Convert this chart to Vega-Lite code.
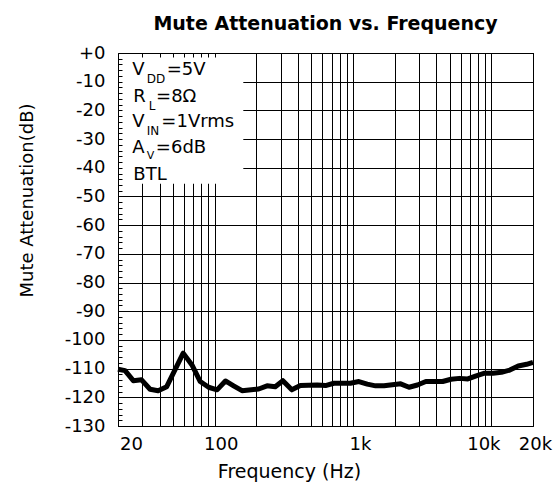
{
  "$schema": "https://vega.github.io/schema/vega-lite/v6.json",
  "width": 415,
  "height": 373,
  "autosize": "none",
  "padding": {"left": 118, "top": 53, "right": 25, "bottom": 61},
  "background": "white",
  "config": {
    "font": "DejaVu Sans",
    "view": {"stroke": "black", "strokeWidth": 1},
    "axis": {"labelFont": "DejaVu Sans", "titleFont": "DejaVu Sans", "labelFontSize": 18, "titleFontSize": 18, "labelColor": "black", "titleColor": "black", "titleFontWeight": "normal"}
  },
  "title": {"text": "Mute Attenuation vs. Frequency", "font": "DejaVu Sans", "fontSize": 19, "fontWeight": "bold", "color": "black", "anchor": "middle", "frame": "group", "baseline": "alphabetic", "offset": -5},
  "resolve": {"axis": {"x": "independent", "y": "independent"}},
  "layer": [
    {
      "data": {"values": [{}]},
      "mark": {"type": "rect", "fill": "white", "strokeWidth": 0},
      "encoding": {
        "x": {"datum": 20, "type": "quantitative", "scale": {"type": "log", "domain": [20, 20000], "nice": false},
          "axis": {"orient": "bottom", "grid": true, "gridColor": "black", "gridOpacity": 1, "gridWidth": 1, "values": [20,30,40,50,60,70,80,90,100,200,300,400,500,600,700,800,900,1000,2000,3000,4000,5000,6000,7000,8000,9000,10000,20000], "labels": false, "ticks": false, "domain": false, "title": null, "zindex": 0}},
        "x2": {"datum": 161},
        "y": {"datum": 0, "type": "quantitative", "scale": {"domain": [-130, 0], "nice": false, "zero": false},
          "axis": {"orient": "left", "grid": true, "gridColor": "black", "gridOpacity": 1, "gridWidth": 1, "values": [-130,-120,-110,-100,-90,-80,-70,-60,-50,-40,-30,-20,-10,0], "labels": false, "ticks": false, "domain": false, "title": null, "zindex": 0}},
        "y2": {"datum": -45.6}
      }
    },
    {
      "data": {"values": [
        {"f": 20, "db": -110.2}, {"f": 22.5, "db": -110.7}, {"f": 25.8, "db": -114.2}, {"f": 29.6, "db": -113.9},
        {"f": 34.1, "db": -117.2}, {"f": 39, "db": -117.7}, {"f": 45, "db": -116.3}, {"f": 59.2, "db": -104.6},
        {"f": 68.5, "db": -108.7}, {"f": 78.6, "db": -114.5}, {"f": 90.4, "db": -116.5}, {"f": 104, "db": -117.4},
        {"f": 119.6, "db": -114.3}, {"f": 137, "db": -116.0}, {"f": 157.6, "db": -117.7}, {"f": 208, "db": -117.1},
        {"f": 239, "db": -116.0}, {"f": 274, "db": -116.3}, {"f": 311, "db": -114.2}, {"f": 361, "db": -117.4},
        {"f": 416, "db": -115.9}, {"f": 551, "db": -115.7}, {"f": 632, "db": -115.9}, {"f": 727, "db": -115.1},
        {"f": 958, "db": -115.1}, {"f": 1102, "db": -114.5}, {"f": 1267, "db": -115.4}, {"f": 1457, "db": -116.0},
        {"f": 1676, "db": -116.0}, {"f": 2209, "db": -115.3}, {"f": 2540, "db": -116.5}, {"f": 2922, "db": -115.7},
        {"f": 3360, "db": -114.5}, {"f": 4443, "db": -114.5}, {"f": 5110, "db": -113.7}, {"f": 5876, "db": -113.4},
        {"f": 6759, "db": -113.6}, {"f": 7772, "db": -112.5}, {"f": 8938, "db": -111.6}, {"f": 10280, "db": -111.6},
        {"f": 11820, "db": -111.3}, {"f": 13600, "db": -110.5}, {"f": 15640, "db": -109.1}, {"f": 17990, "db": -108.5},
        {"f": 20000, "db": -107.8}
      ]},
      "mark": {"type": "line", "color": "black", "strokeWidth": 5, "strokeJoin": "round"},
      "encoding": {
        "x": {"field": "f", "type": "quantitative", "scale": {"type": "log", "domain": [20, 20000], "nice": false},
          "axis": {"orient": "bottom", "values": [20, 100, 1000, 10000, 20000],
            "labelExpr": "datum.value == 20 ? '20' : datum.value == 100 ? '100' : datum.value == 1000 ? '1k' : datum.value == 10000 ? '10k' : '20k'",
            "grid": false, "ticks": false, "domain": false, "labelPadding": 9, "labelFlush": false,
            "labelOffset": {"condition": [{"test": "datum.value == 20", "value": 13}, {"test": "datum.value == 100", "value": 6}, {"test": "datum.value == 1000", "value": 7}, {"test": "datum.value == 10000", "value": -8}], "value": 2},
            "title": "Frequency (Hz)", "titleFontSize": 19, "titleX": 171, "titleY": 51, "titleBaseline": "alphabetic", "titleAnchor": null, "titleAlign": "center", "zindex": 1}},
        "y": {"field": "db", "type": "quantitative", "scale": {"domain": [-130, 0], "nice": false, "zero": false},
          "axis": {"orient": "left", "values": [-130,-128,-126,-124,-122,-120,-118,-116,-114,-112,-110,-108,-106,-104,-102,-100,-98,-96,-94,-92,-90,-88,-86,-84,-82,-80,-78,-76,-74,-72,-70,-68,-66,-64,-62,-60,-58,-56,-54,-52,-50,-48,-46,-44,-42,-40,-38,-36,-34,-32,-30,-28,-26,-24,-22,-20,-18,-16,-14,-12,-10,-8,-6,-4,-2,0],
            "labelExpr": "datum.value % 10 === 0 ? (datum.value === 0 ? '+0' : toString(datum.value)) : ''",
            "grid": false, "ticks": true, "tickSize": -4, "tickColor": "black", "tickWidth": 1,
            "domain": true, "domainColor": "black", "domainWidth": 1, "labelPadding": 17, "labelFlush": false,
            "title": "Mute Attenuation(dB)", "titleAngle": -90, "titleX": -86, "titleY": 147, "titleBaseline": "alphabetic", "titleAlign": "center", "titleAnchor": null, "zindex": 1}}
      }
    },
    {
      "data": {"values": [{}]},
      "encoding": {
        "x": {"datum": 25.4, "type": "quantitative", "axis": null},
        "y": {"datum": -7.67, "type": "quantitative", "axis": null}
      },
      "layer": [
        {"mark": {"type": "text", "text": "V", "align": "left", "baseline": "alphabetic", "fontSize": 18, "color": "black", "dx": 0}},
        {"mark": {"type": "text", "text": "DD", "align": "left", "baseline": "alphabetic", "fontSize": 12, "color": "black", "dx": 14.4, "dy": 8}},
        {"mark": {"type": "text", "text": "=5V", "align": "left", "baseline": "alphabetic", "fontSize": 18, "color": "black", "dx": 34.4}}
      ]
    },
    {
      "data": {"values": [{}]},
      "encoding": {
        "x": {"datum": 25.4, "type": "quantitative", "axis": null},
        "y": {"datum": -16.97, "type": "quantitative", "axis": null}
      },
      "layer": [
        {"mark": {"type": "text", "text": "R", "align": "left", "baseline": "alphabetic", "fontSize": 18, "color": "black", "dx": 1}},
        {"mark": {"type": "text", "text": "L", "align": "left", "baseline": "alphabetic", "fontSize": 12, "color": "black", "dx": 16.5, "dy": 8}},
        {"mark": {"type": "text", "text": "=8Ω", "align": "left", "baseline": "alphabetic", "fontSize": 18, "color": "black", "dx": 23.7}}
      ]
    },
    {
      "data": {"values": [{}]},
      "encoding": {
        "x": {"datum": 25.4, "type": "quantitative", "axis": null},
        "y": {"datum": -25.68, "type": "quantitative", "axis": null}
      },
      "layer": [
        {"mark": {"type": "text", "text": "V", "align": "left", "baseline": "alphabetic", "fontSize": 18, "color": "black", "dx": 0}},
        {"mark": {"type": "text", "text": "IN", "align": "left", "baseline": "alphabetic", "fontSize": 12, "color": "black", "dx": 14.4, "dy": 8}},
        {"mark": {"type": "text", "text": "=1Vrms", "align": "left", "baseline": "alphabetic", "fontSize": 18, "color": "black", "dx": 29}}
      ]
    },
    {
      "data": {"values": [{}]},
      "encoding": {
        "x": {"datum": 25.4, "type": "quantitative", "axis": null},
        "y": {"datum": -34.74, "type": "quantitative", "axis": null}
      },
      "layer": [
        {"mark": {"type": "text", "text": "A", "align": "left", "baseline": "alphabetic", "fontSize": 18, "color": "black", "dx": 0}},
        {"mark": {"type": "text", "text": "V", "align": "left", "baseline": "alphabetic", "fontSize": 11, "color": "black", "dx": 14.5, "dy": 6}},
        {"mark": {"type": "text", "text": "=6dB", "align": "left", "baseline": "alphabetic", "fontSize": 18, "color": "black", "dx": 23.5}}
      ]
    },
    {
      "data": {"values": [{}]},
      "mark": {"type": "text", "text": "BTL", "align": "left", "baseline": "alphabetic", "fontSize": 18, "color": "black", "dx": 1},
      "encoding": {
        "x": {"datum": 25.4, "type": "quantitative",
          "axis": {"orient": "top", "values": [20,30,40,50,60,70,80,90,100,200,300,400,500,600,700,800,900,1000,2000,3000,4000,5000,6000,7000,8000,9000,10000,20000], "labels": false, "grid": false, "ticks": true, "tickSize": -4, "tickColor": "black", "domain": true, "domainColor": "black", "title": null, "zindex": 1}},
        "y": {"datum": -44.3, "type": "quantitative", "axis": null}
      }
    }
  ]
}
